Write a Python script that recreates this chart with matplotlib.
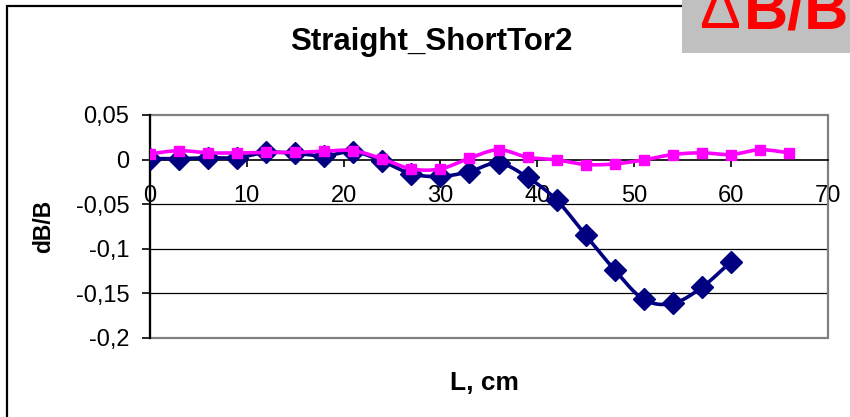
import numpy as np
import matplotlib
matplotlib.use("Agg")
import matplotlib.pyplot as plt
from matplotlib.patches import Rectangle

plt.rcParams['font.family'] = ['Liberation Sans', 'DejaVu Sans']

# ---- data ----
L_blue = [0, 3, 6, 9, 12, 15, 18, 21, 24, 27, 30, 33, 36, 39, 42, 45, 48, 51, 54, 57, 60]
dB_blue = [0.001, 0.001, 0.002, 0.002, 0.008, 0.007, 0.004, 0.009, -0.002, -0.016, -0.019,
           -0.0135, -0.004, -0.020, -0.0455, -0.085, -0.124, -0.157, -0.1615, -0.1435, -0.1147]
L_pink = [0, 3, 6, 9, 12, 15, 18, 21, 24, 27, 30, 33, 36, 39, 42, 45, 48, 51, 54, 57, 60, 63, 66]
dB_pink = [0.0064, 0.010, 0.0075, 0.0075, 0.008, 0.008, 0.0094, 0.010, 0.0007, -0.0105, -0.0105,
           0.0015, 0.011, 0.0026, -0.0004, -0.0056, -0.0049, -0.0004, 0.0056, 0.0075, 0.0056,
           0.011, 0.0075]
x_ticks = [0, 10, 20, 30, 40, 50, 60, 70]
y_ticks = [0.05, 0.0, -0.05, -0.1, -0.15, -0.2]
y_tick_labels = ["0,05", "0", "-0,05", "-0,1", "-0,15", "-0,2"]
title = "Straight_ShortTor2"
x_label = "L, cm"
y_label = "dB/B"

W, H = 850, 417


def smooth(x, y, n=16):
    """Catmull-Rom curve through the points (like Excel's smoothed line)."""
    x = np.asarray(x, float)
    y = np.asarray(y, float)
    P = np.column_stack([x, y])
    P = np.vstack([P[0], P, P[-1]])
    out = []
    t = np.linspace(0, 1, n, endpoint=False)[:, None]
    for i in range(1, len(P) - 2):
        p0, p1, p2, p3 = P[i - 1], P[i], P[i + 1], P[i + 2]
        c = 0.5 * ((2 * p1) + (-p0 + p2) * t + (2 * p0 - 5 * p1 + 4 * p2 - p3) * t ** 2
                   + (-p0 + 3 * p1 - 3 * p2 + p3) * t ** 3)
        out.append(c)
    out.append(P[-2][None, :])
    out = np.vstack(out)
    return out[:, 0], out[:, 1]


fig = plt.figure(figsize=(W / 100, H / 100), dpi=100)
fig.patch.set_facecolor("white")

# chart border
fig.patches.append(Rectangle((7 / W, -0.1), 2, 1 - 6 / H + 0.1, transform=fig.transFigure,
                             fill=False, edgecolor="black", linewidth=1.6, zorder=0))

left, right, top, bottom = 150, 827.7, 115, 337.7
ax = fig.add_axes([left / W, 1 - bottom / H, (right - left) / W, (bottom - top) / H])
ax.set_xlim(0, 70)
ax.set_ylim(-0.2, 0.05)

for yv in y_ticks:
    if -0.2 < yv < 0.05 and yv != 0:
        ax.axhline(yv, color="black", lw=0.9, zorder=1)

for s in ["top", "right"]:
    ax.spines[s].set_visible(False)
ax.spines["bottom"].set_position(("data", 0))
ax.spines["bottom"].set_linewidth(1.2)
ax.spines["left"].set_linewidth(1.6)
ax.spines["left"].set_zorder(3)
ax.add_patch(Rectangle((0, 0), 1, 1, transform=ax.transAxes, fill=False,
                       edgecolor="#808080", linewidth=1.6, zorder=2, clip_on=False))

ax.set_xticks(x_ticks)
ax.set_xticklabels([str(v) for v in x_ticks])
ax.set_yticks(y_ticks)
ax.set_yticklabels(y_tick_labels)
ax.tick_params(axis="x", direction="out", length=5, width=1.2, pad=13, labelsize=17)
ax.tick_params(axis="y", direction="out", length=6, width=1.2, pad=9, labelsize=17)

bx, by = smooth(L_blue, dB_blue)
ax.plot(bx, by, color="#000080", lw=2.6, zorder=4, solid_capstyle="round")
ax.plot(L_blue, dB_blue, ls="none", marker="D", ms=11, color="#000080", zorder=5)
px_, py_ = smooth(L_pink, dB_pink)
ax.plot(px_, py_, color="#FF00FF", lw=2.6, zorder=6, solid_capstyle="round")
ax.plot(L_pink, dB_pink, ls="none", marker="s", ms=7.5, color="#FF00FF", zorder=7)

fig.text(431 / W, 1 - 42 / H, title, ha="center", va="center", fontsize=22.5, fontweight="bold")
fig.text(484 / W, 1 - 383 / H, x_label, ha="center", va="center", fontsize=19, fontweight="bold")
fig.text(44 / W, 1 - 226 / H, y_label, ha="center", va="center", fontsize=16.5, fontweight="bold",
         rotation=90)

# red label box at top right
fig.patches.append(Rectangle((682 / W, 1 - 53 / H), (W - 682) / W + 0.01, 53 / H + 0.01,
                             transform=fig.transFigure, facecolor="#C0C0C0", edgecolor="none",
                             zorder=5))
fig.text(699 / W, 1 - 28 / H, "\u0394", ha="left", va="baseline", fontsize=44, color="#FF0000",
         zorder=6)
fig.text(744 / W, 1 - 28 / H, "B/B", ha="left", va="baseline", fontsize=44, color="#FF0000",
         fontweight="bold", zorder=6)

fig.savefig("out.png", dpi=100)
